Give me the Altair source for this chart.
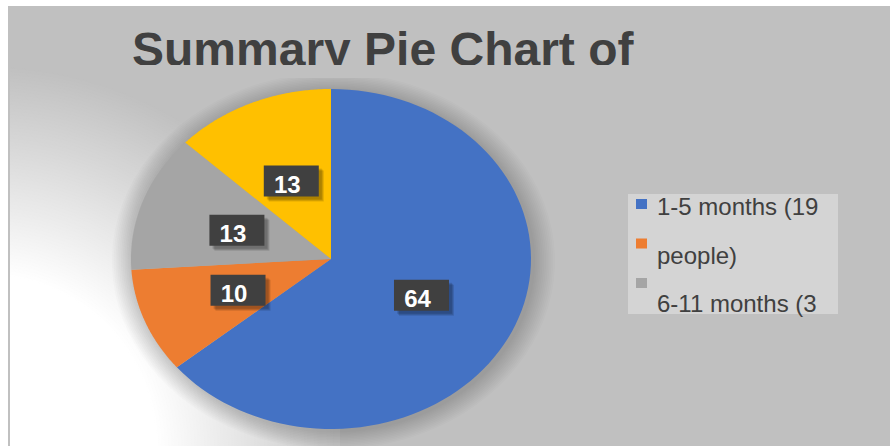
import altair as alt
import pandas as pd

# ---- data ----
categories = ["1-5 months (19 people)", "6-11 months (3 people)", "Group 3", "Group 4"]
values = [64, 10, 13, 13]
colors = ["#4472C4", "#ED7D31", "#A5A5A5", "#FFC000"]
legend_lines = ["1-5 months (19", "people)", "6-11 months (3"]
title_text = "Summary Pie Chart of"

df = pd.DataFrame({"category": categories, "value": values, "idx": list(range(len(values)))})
one = pd.DataFrame({"a": [0]})

XS = alt.Scale(domain=[-1.655, 2.795], nice=False, zero=False)
YS = alt.Scale(domain=[-1.1, 1.5235], nice=False, zero=False)

def xy():
    return dict(x=alt.X("u:Q", scale=XS, axis=None), y=alt.Y("v:Q", scale=YS, axis=None))

angles = (
    alt.Chart(df)
    .transform_window(cum="sum(value)", sort=[alt.SortField("idx")], frame=[None, 0])
    .transform_joinaggregate(total="sum(value)")
    .transform_calculate(
        a0="2*PI*(datum.cum-datum.value)/datum.total",
        a1="2*PI*datum.cum/datum.total",
    )
)

def wedge(chart, r="1", du="0", dv="0"):
    return (
        chart.transform_calculate(k="sequence(0, 92)")
        .transform_flatten(["k"])
        .transform_calculate(
            a="datum.a0 + (datum.a1-datum.a0)*max(datum.k-1,0)/90",
        )
        .transform_calculate(
            u=f"{du} + (datum.k==0 ? 0 : {r}*sin(datum.a))",
            v=f"{dv} + (datum.k==0 ? 0 : {r}*cos(datum.a))",
        )
    )

# background
bg = alt.Chart(one).mark_rect(color="#c0c0c0").encode(
    x=alt.value(8), x2=alt.value(890), y=alt.value(6), y2=alt.value(446)
)
glow = alt.Chart(one).mark_rect(
    fill={
        "gradient": "radial",
        "x1": 0, "y1": 1, "r1": 0,
        "x2": 0, "y2": 1, "r2": 1,
        "stops": [
            {"offset": 0, "color": "rgba(255,255,255,1)"},
            {"offset": 0.45, "color": "rgba(255,255,255,1)"},
            {"offset": 1, "color": "rgba(255,255,255,0)"},
        ],
    }
).encode(x=alt.value(10), x2=alt.value(340), y=alt.value(66), y2=alt.value(446))

# soft pie shadow
shadows = []
for step in range(12, 0, -1):
    r = f"{1 + 0.009 * step:.3f}"
    full = angles.transform_filter("datum.idx == 0").transform_calculate(a0="0", a1="2*PI")
    shadows.append(
        wedge(full, r=r, du="0.012", dv="-0.012")
        .mark_line(filled=True, color="black", opacity=0.016, strokeWidth=0)
        .encode(order="k:Q", **xy())
    )

pie = wedge(angles).mark_line(filled=True, strokeWidth=0).encode(
    order="k:Q",
    detail="category:N",
    color=alt.Color("category:N", scale=alt.Scale(domain=categories, range=colors), legend=None),
    **xy(),
)

title = alt.Chart(one).mark_text(
    text=title_text, font="Liberation Sans", fontWeight="bold", fontSize=48,
    color="#404040", align="left", baseline="alphabetic",
).encode(x=alt.value(132), y=alt.value(66))
title_cut = alt.Chart(one).mark_rect(color="#c0c0c0").encode(
    x=alt.value(120), x2=alt.value(660), y=alt.value(65), y2=alt.value(78)
)

labels = angles.transform_calculate(
    mid="(datum.a0+datum.a1)/2", u="0.5*sin(datum.mid)", v="0.5*cos(datum.mid)"
)
box_path = "M-1,-0.5636H1V0.5636H-1Z"
box_shadow = [
    labels.mark_point(
        shape=box_path, size=3025, filled=True, color="black", opacity=0.12,
        strokeWidth=0, xOffset=o, yOffset=o,
    ).encode(**xy())
    for o in (5, 4, 3)
]
box = labels.mark_point(
    shape=box_path, size=3025, filled=True, color="#404040", opacity=1, strokeWidth=0
).encode(**xy())
label_text = labels.mark_text(
    font="Liberation Sans", fontWeight="bold", fontSize=24, color="white",
    baseline="alphabetic", align="center", dx=-4, dy=12,
).encode(text="value:Q", **xy())

# legend (drawn as in the reference)
leg_bg = alt.Chart(one).mark_rect(color="#d4d4d4").encode(
    x=alt.value(628), x2=alt.value(838), y=alt.value(194), y2=alt.value(314)
)
leg_layers = []
for i, line in enumerate(legend_lines):
    leg_layers.append(
        alt.Chart(one).mark_rect(color=colors[i]).encode(
            x=alt.value(636), x2=alt.value(647),
            y=alt.value(199 + 39.5 * i), y2=alt.value(209 + 39.5 * i),
        )
    )
    leg_layers.append(
        alt.Chart(one).mark_text(
            text=line, font="Liberation Sans", fontSize=24, color="#404040",
            align="left", baseline="alphabetic",
        ).encode(x=alt.value(657), y=alt.value(215 + 48.5 * i))
    )

chart = alt.layer(
    bg, glow, *shadows, pie, title, title_cut, *box_shadow, box, label_text, leg_bg, *leg_layers
).properties(
    width=890, height=446, autosize="none", padding=0, background="white"
).configure_view(strokeWidth=0)

chart.save("out.html", embed_options={"renderer": "svg", "actions": False})
